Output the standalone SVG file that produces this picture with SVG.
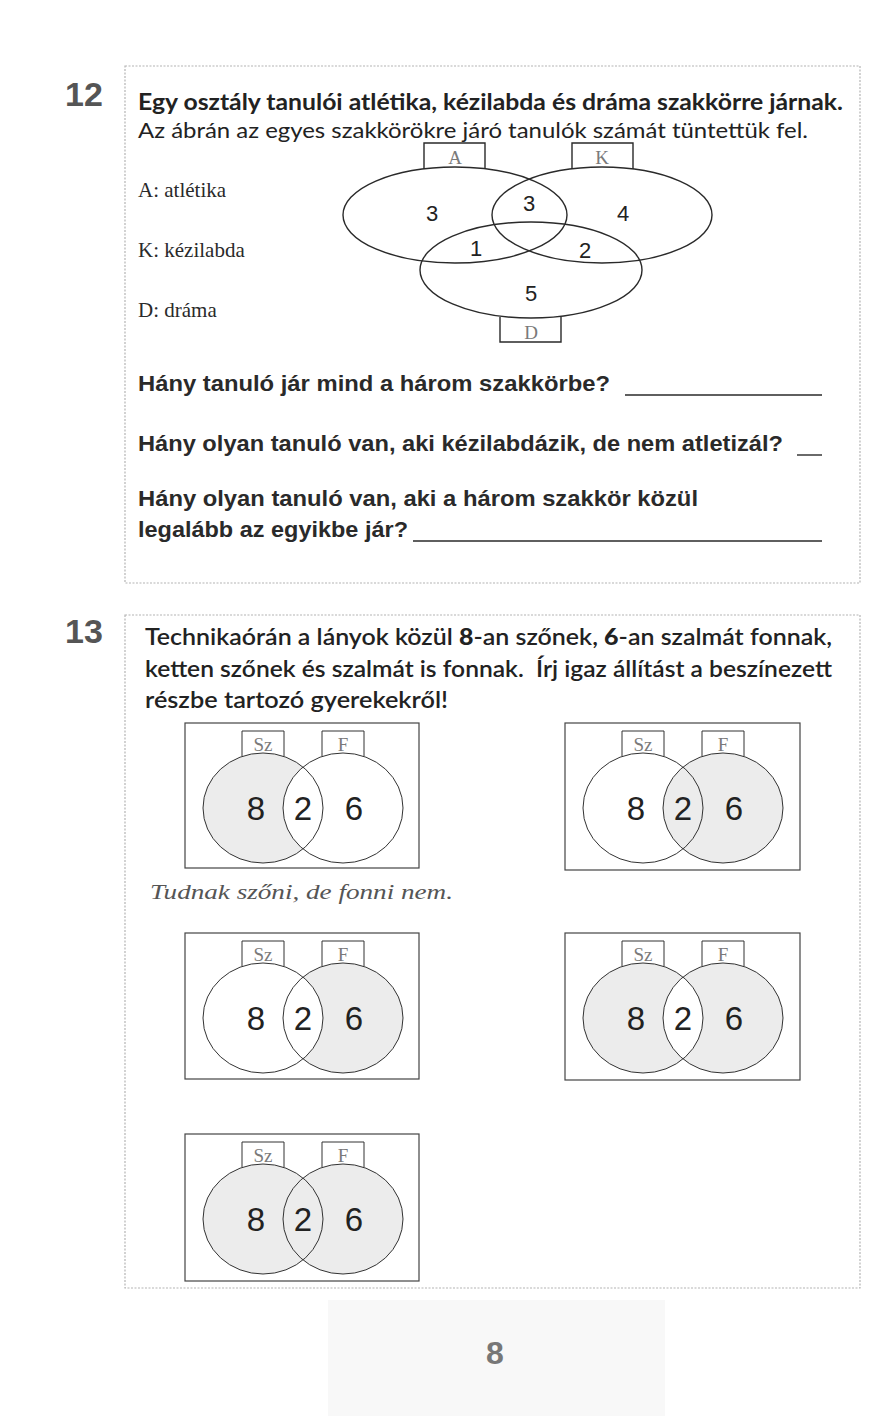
<svg xmlns="http://www.w3.org/2000/svg" width="885" height="1416" viewBox="0 0 885 1416">
<style>
.frame{fill:none;stroke:#b4b4b4;stroke-width:1.2;stroke-dasharray:2 1.5}
.ln{fill:none;stroke:#2a2a2a;stroke-width:1.4}
.thin{fill:none;stroke:#333;stroke-width:1}
.num{font-family:"Liberation Sans",Arial,sans-serif;font-weight:bold;fill:#555}
.head{font-family:Lato,"Open Sans",sans-serif;fill:#222;white-space:pre}
.q{font-family:"Liberation Sans",Arial,sans-serif;font-weight:bold;fill:#2a2a2a;font-size:22px}
.serif{font-family:"Liberation Serif","Times New Roman",serif;fill:#2a2a2a;font-size:21px}
.tag{font-family:"Liberation Serif","Times New Roman",serif;fill:#7a7a7a;font-size:19px;text-anchor:middle}
.v{font-family:"Liberation Sans",Arial,sans-serif;fill:#222;font-size:22px;text-anchor:middle}
.big{font-family:"Liberation Sans",Arial,sans-serif;fill:#222;font-size:33px;text-anchor:middle}
.sh{fill:#ececec}
.wh{fill:#fff}
.box{fill:#fff;stroke:#444;stroke-width:1.2}
</style>
<defs>
<clipPath id="clipL"><ellipse cx="78" cy="85" rx="60" ry="55"/></clipPath>
<g id="outl">
<ellipse class="thin" cx="78" cy="85" rx="60" ry="55"/>
<ellipse class="thin" cx="158" cy="85" rx="60" ry="55"/>
<path class="thin" d="M57,33 V8 H99 V33"/>
<path class="thin" d="M137,33 V8 H179 V33"/>
<text class="tag" x="78" y="28">Sz</text>
<text class="tag" x="158" y="28">F</text>
<text class="big" x="71" y="97">8</text>
<text class="big" x="118" y="97">2</text>
<text class="big" x="169" y="97">6</text>
</g>
</defs>
<rect x="0" y="0" width="885" height="1416" fill="#fff"/>
<rect x="328" y="1300" width="337" height="116" fill="#f8f8f8"/>

<g id="problem12">
<rect class="frame" x="125" y="66" width="735" height="517"/>
<text class="num" x="65" y="106" font-size="34">12</text>
<text class="head" x="138" y="110" font-size="22" font-weight="bold" textLength="705" lengthAdjust="spacingAndGlyphs">Egy osztály tanulói atlétika, kézilabda és dráma szakkörre járnak.</text>
<text class="head" x="138" y="138" font-size="21" textLength="670" lengthAdjust="spacingAndGlyphs">Az ábrán az egyes szakkörökre járó tanulók számát tüntettük fel.</text>
<text class="serif" x="138" y="197">A: atlétika</text>
<text class="serif" x="138" y="257">K: kézilabda</text>
<text class="serif" x="138" y="317">D: dráma</text>
</g>

<g id="venn12">
<ellipse class="ln" cx="455" cy="215" rx="112" ry="48"/>
<ellipse class="ln" cx="602" cy="215" rx="110" ry="48"/>
<ellipse class="ln" cx="531" cy="270" rx="111" ry="48"/>
<path class="ln" d="M424,169 V143 H485 V169"/>
<path class="ln" d="M572,169 V143 H633 V169"/>
<path class="ln" d="M500,317 V342 H561 V317"/>
<text class="tag" x="455" y="164">A</text>
<text class="tag" x="602" y="164">K</text>
<text class="tag" x="531" y="339">D</text>
<text class="v" x="432" y="221">3</text>
<text class="v" x="529" y="211">3</text>
<text class="v" x="623" y="221">4</text>
<text class="v" x="476" y="256">1</text>
<text class="v" x="585" y="258">2</text>
<text class="v" x="531" y="301">5</text>
</g>

<g id="questions12">
<text class="q" x="138" y="391" textLength="472" lengthAdjust="spacingAndGlyphs">Hány tanuló jár mind a három szakkörbe?</text>
<line class="ln" x1="625" y1="395" x2="822" y2="395"/>
<text class="q" x="138" y="451" textLength="645" lengthAdjust="spacingAndGlyphs">Hány olyan tanuló van, aki kézilabdázik, de nem atletizál?</text>
<line class="ln" x1="797" y1="455" x2="822" y2="455"/>
<text class="q" x="138" y="506" textLength="560" lengthAdjust="spacingAndGlyphs">Hány olyan tanuló van, aki a három szakkör közül</text>
<text class="q" x="138" y="537" textLength="270" lengthAdjust="spacingAndGlyphs">legalább az egyikbe jár?</text>
<line class="ln" x1="413" y1="541" x2="822" y2="541"/>
</g>

<g id="problem13">
<rect class="frame" x="125" y="615" width="735" height="673"/>
<text class="num" x="65" y="643" font-size="34">13</text>
<text class="head" x="145" y="645" font-size="22" font-weight="600" textLength="687" lengthAdjust="spacingAndGlyphs">Technikaórán a lányok közül <tspan font-weight="900">8</tspan>-an szőnek, <tspan font-weight="900">6</tspan>-an szalmát fonnak,</text>
<text class="head" x="145" y="677" font-size="22" font-weight="600" textLength="687" lengthAdjust="spacingAndGlyphs">ketten szőnek és szalmát is fonnak.  Írj igaz állítást a beszínezett</text>
<text class="head" x="145" y="708" font-size="22" font-weight="600" textLength="303" lengthAdjust="spacingAndGlyphs">részbe tartozó gyerekekről!</text>
<text x="150" y="899" font-family="'Liberation Serif',serif" font-style="italic" font-size="22" fill="#555" textLength="303" lengthAdjust="spacingAndGlyphs">Tudnak szőni, de fonni nem.</text>
</g>

<g id="venn1" transform="translate(185,723)">
<rect class="box" x="0" y="0" width="234" height="145"/>
<ellipse class="sh" cx="78" cy="85" rx="60" ry="55"/>
<ellipse class="wh" cx="158" cy="85" rx="60" ry="55"/>
<use href="#outl"/>
</g>

<g id="venn2" transform="translate(565,723)">
<rect class="box" x="0" y="0" width="235" height="147"/>
<ellipse class="sh" cx="158" cy="85" rx="60" ry="55"/>
<use href="#outl"/>
</g>

<g id="venn3" transform="translate(185,933)">
<rect class="box" x="0" y="0" width="234" height="146"/>
<ellipse class="sh" cx="158" cy="85" rx="60" ry="55"/>
<ellipse class="wh" cx="78" cy="85" rx="60" ry="55"/>
<use href="#outl"/>
</g>

<g id="venn4" transform="translate(565,933)">
<rect class="box" x="0" y="0" width="235" height="147"/>
<ellipse class="sh" cx="78" cy="85" rx="60" ry="55"/>
<ellipse class="sh" cx="158" cy="85" rx="60" ry="55"/>
<ellipse class="wh" cx="158" cy="85" rx="60" ry="55" clip-path="url(#clipL)"/>
<use href="#outl"/>
</g>

<g id="venn5" transform="translate(185,1134)">
<rect class="box" x="0" y="0" width="234" height="147"/>
<ellipse class="sh" cx="78" cy="85" rx="60" ry="55"/>
<ellipse class="sh" cx="158" cy="85" rx="60" ry="55"/>
<use href="#outl"/>
</g>

<g id="connectors"/>

<text x="495" y="1364" font-family="'Liberation Sans',Arial,sans-serif" font-weight="bold" font-size="32" fill="#777" text-anchor="middle">8</text>
</svg>
